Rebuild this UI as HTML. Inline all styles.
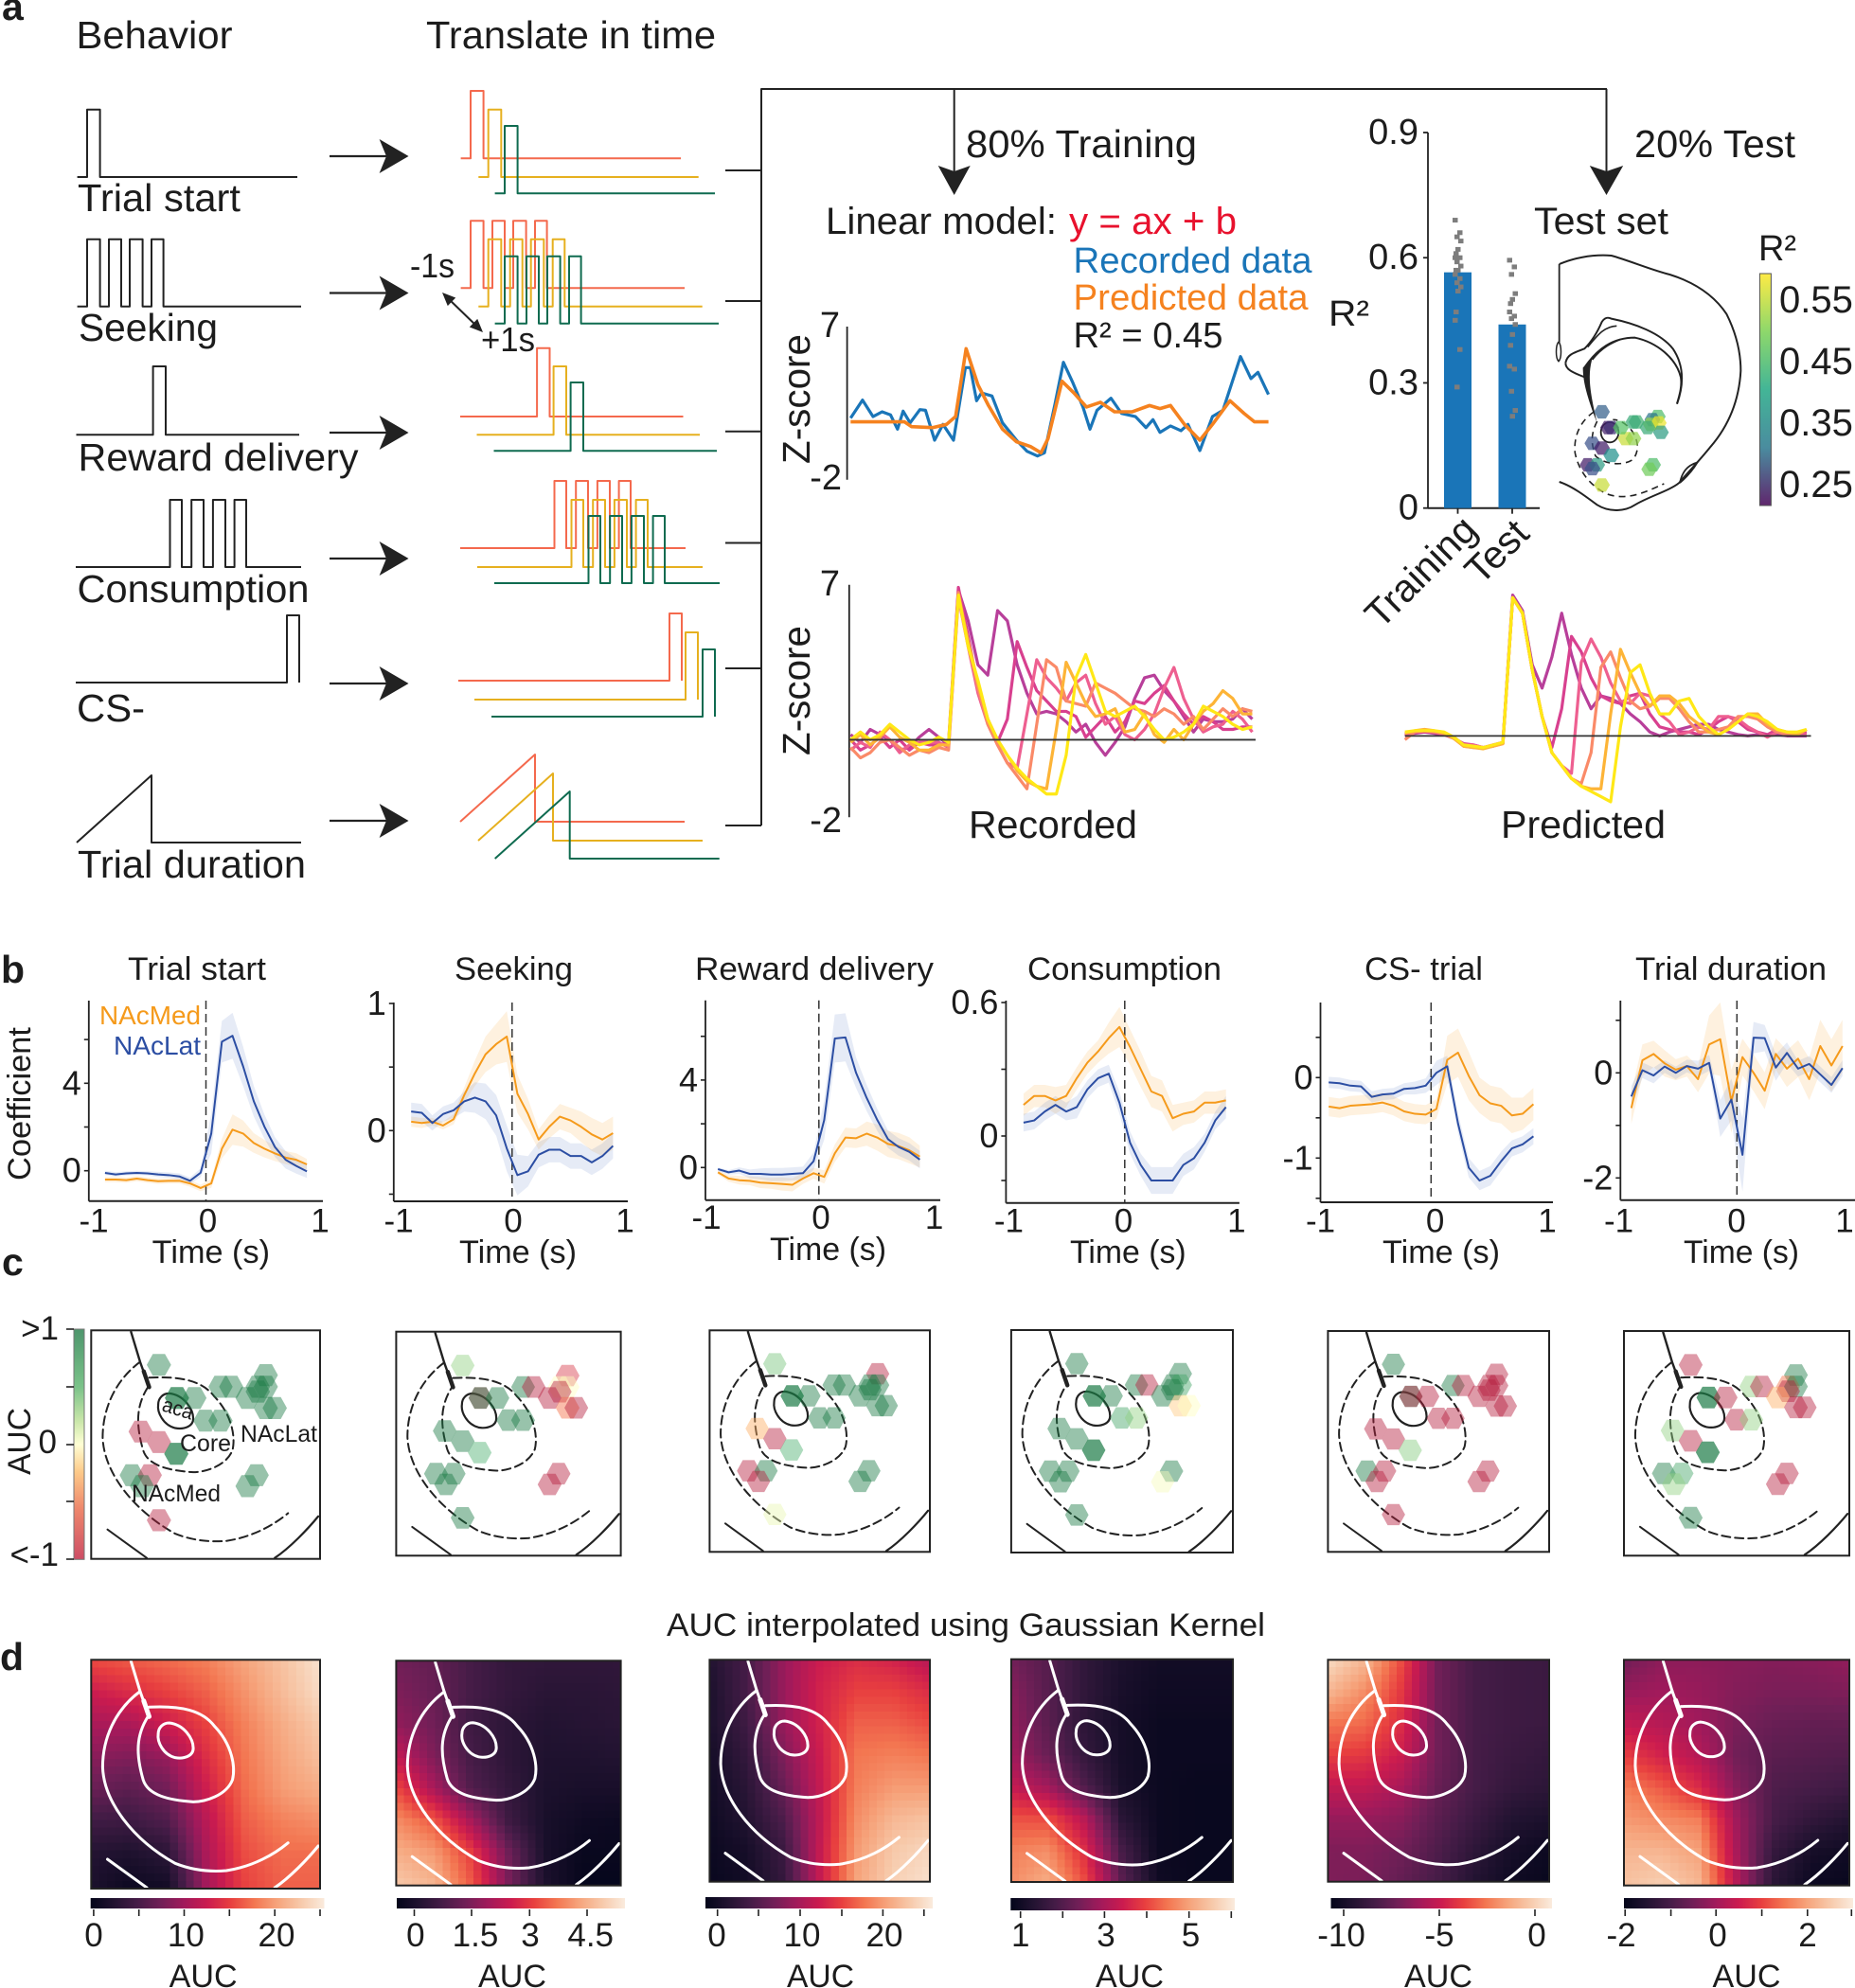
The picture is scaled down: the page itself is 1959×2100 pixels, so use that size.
<!DOCTYPE html>
<html lang="en">
<head>
<meta charset="utf-8">
<title>Linear model of NAc dopamine behavior encoding</title>
<style>
html,body{margin:0;padding:0;background:#fff;}
svg{display:block;}
text{font-family:"Liberation Sans",sans-serif;fill:#1c1c1c;}
.bold{font-weight:bold;}
</style>
</head>
<body>
<svg id="figure" xmlns="http://www.w3.org/2000/svg" width="1959" height="2100" viewBox="0 0 1959 2100">
<defs>
<linearGradient id="viridis-grad" x1="0" y1="0" x2="0" y2="1">
<stop offset="0" stop-color="#fde725"/><stop offset=".25" stop-color="#7ad151"/><stop offset=".5" stop-color="#22a884"/><stop offset=".75" stop-color="#2a788e"/><stop offset="1" stop-color="#440154"/>
</linearGradient>
<linearGradient id="auc-grad" x1="0" y1="0" x2="0" y2="1">
<stop offset="0" stop-color="#3a8a5c"/><stop offset=".25" stop-color="#6cbc7c"/><stop offset=".4" stop-color="#c4e4a0"/><stop offset=".5" stop-color="#ffffd0"/><stop offset=".62" stop-color="#fdc47c"/><stop offset=".78" stop-color="#ec7a5c"/><stop offset="1" stop-color="#c83a55"/>
</linearGradient>
<linearGradient id="rocket-grad" x1="0" y1="0" x2="1" y2="0">
<stop offset="0" stop-color="#03051a"/><stop offset=".1" stop-color="#221331"/><stop offset=".2" stop-color="#451c47"/><stop offset=".3" stop-color="#701f57"/><stop offset=".4" stop-color="#a11a5b"/><stop offset=".5" stop-color="#cb1b4f"/><stop offset=".6" stop-color="#e83f3f"/><stop offset=".7" stop-color="#f37651"/><stop offset=".8" stop-color="#f6a47c"/><stop offset=".9" stop-color="#f7c9aa"/><stop offset="1" stop-color="#faebdd"/>
</linearGradient>
</defs>

<g id="marks-layer"></g>

<g>
<text class="bold" x="2" y="21" font-size="41">a</text>
<text x="80.5" y="51" font-size="41" textLength="165" lengthAdjust="spacingAndGlyphs">Behavior</text>
<text x="450" y="51" font-size="41" textLength="306" lengthAdjust="spacingAndGlyphs">Translate in time</text>
<text x="82" y="223" font-size="41" textLength="172" lengthAdjust="spacingAndGlyphs">Trial start</text>
<text x="83" y="360" font-size="41" textLength="147" lengthAdjust="spacingAndGlyphs">Seeking</text>
<text x="82.5" y="497" font-size="41" textLength="296" lengthAdjust="spacingAndGlyphs">Reward delivery</text>
<text x="81.5" y="636" font-size="41" textLength="245" lengthAdjust="spacingAndGlyphs">Consumption</text>
<text x="81" y="762" font-size="41" textLength="72" lengthAdjust="spacingAndGlyphs">CS-</text>
<text x="82" y="927" font-size="41" textLength="241" lengthAdjust="spacingAndGlyphs">Trial duration</text>
<text x="433" y="293" font-size="36" textLength="47" lengthAdjust="spacingAndGlyphs">-1s</text>
<text x="508" y="371" font-size="36" textLength="57" lengthAdjust="spacingAndGlyphs">+1s</text>
<text x="1020" y="166" font-size="41" textLength="244" lengthAdjust="spacingAndGlyphs">80% Training</text>
<text x="1726" y="166" font-size="41" textLength="170" lengthAdjust="spacingAndGlyphs">20% Test</text>
<text x="872" y="247" font-size="40" textLength="244" lengthAdjust="spacingAndGlyphs">Linear model:</text>
<text x="1129" y="247" font-size="40" style="fill:#e8112d" textLength="177" lengthAdjust="spacingAndGlyphs">y = ax + b</text>
<text x="1620" y="247" font-size="40" textLength="142" lengthAdjust="spacingAndGlyphs">Test set</text>
<text x="1133.5" y="288" font-size="38" style="fill:#1a75b8" textLength="252" lengthAdjust="spacingAndGlyphs">Recorded data</text>
<text x="1133.5" y="327" font-size="38" style="fill:#f5821f" textLength="248" lengthAdjust="spacingAndGlyphs">Predicted data</text>
<text x="1133.5" y="367" font-size="38" textLength="158" lengthAdjust="spacingAndGlyphs">R² = 0.45</text>
<text x="1403" y="344" font-size="38" textLength="43" lengthAdjust="spacingAndGlyphs">R²</text>
<text x="1857" y="275" font-size="38" textLength="40" lengthAdjust="spacingAndGlyphs">R²</text>
<text transform="translate(855,490) rotate(-90)" x="0" y="0" font-size="41" textLength="137" lengthAdjust="spacingAndGlyphs">Z-score</text>
<text transform="translate(855,798) rotate(-90)" x="0" y="0" font-size="41" textLength="137" lengthAdjust="spacingAndGlyphs">Z-score</text>
<text x="1023" y="885" font-size="41" textLength="178" lengthAdjust="spacingAndGlyphs">Recorded</text>
<text x="1585" y="885" font-size="41" textLength="174" lengthAdjust="spacingAndGlyphs">Predicted</text>
</g>

<g>
<text class="bold" x="1" y="1038" font-size="41">b</text>
<text x="135" y="1035" font-size="34" textLength="146" lengthAdjust="spacingAndGlyphs">Trial start</text>
<text x="480" y="1035" font-size="34" textLength="125" lengthAdjust="spacingAndGlyphs">Seeking</text>
<text x="734" y="1035" font-size="34" textLength="252" lengthAdjust="spacingAndGlyphs">Reward delivery</text>
<text x="1085" y="1035" font-size="34" textLength="205" lengthAdjust="spacingAndGlyphs">Consumption</text>
<text x="1441" y="1035" font-size="34" textLength="125" lengthAdjust="spacingAndGlyphs">CS- trial</text>
<text x="1727" y="1035" font-size="34" textLength="202" lengthAdjust="spacingAndGlyphs">Trial duration</text>
<text x="105" y="1082" font-size="28" style="fill:#f59a1b" textLength="107" lengthAdjust="spacingAndGlyphs">NAcMed</text>
<text x="120" y="1114" font-size="28" style="fill:#2c4ea3" textLength="92" lengthAdjust="spacingAndGlyphs">NAcLat</text>
<text transform="translate(32,1247) rotate(-90)" x="0" y="0" font-size="34" textLength="162" lengthAdjust="spacingAndGlyphs">Coefficient</text>
<text class="bold" x="2" y="1347" font-size="41">c</text>
</g>

<g>
<text x="62" y="1415" font-size="35" text-anchor="end">&gt;1</text>
<text x="60" y="1535" font-size="35" text-anchor="end">0</text>
<text x="62" y="1654" font-size="35" text-anchor="end">&lt;-1</text>
<text transform="translate(32,1558) rotate(-90)" x="0" y="0" font-size="34" textLength="71" lengthAdjust="spacingAndGlyphs">AUC</text>
<text transform="translate(170,1490) rotate(17)" x="0" y="0" font-size="22" textLength="33" lengthAdjust="spacingAndGlyphs">aca</text>
<text x="190" y="1533" font-size="25" textLength="54" lengthAdjust="spacingAndGlyphs">Core</text>
<text x="254" y="1523" font-size="25" textLength="81" lengthAdjust="spacingAndGlyphs">NAcLat</text>
<text x="139" y="1586" font-size="25" textLength="94" lengthAdjust="spacingAndGlyphs">NAcMed</text>
</g>

<g>
<text class="bold" x="0" y="1764" font-size="41">d</text>
<text x="704" y="1728" font-size="34" textLength="632" lengthAdjust="spacingAndGlyphs">AUC interpolated using Gaussian Kernel</text>
</g>

<script>
/* ---------- bar chart data (R²) ---------- */
const barCategories = ['Training', 'Test'];
const barValues = [0.565, 0.44];
const trainingPoints = [.69,.66,.65,.64,.62,.61,.60,.60,.59,.58,.57,.57,.56,.55,.54,.53,.52,.47,.45,.38,.29];
const testPoints = [.594,.578,.56,.514,.5,.49,.47,.46,.454,.44,.416,.39,.34,.333,.28,.234,.22];
const barTicks = [0, 0.3, 0.6, 0.9];
const barTickLabels = ['0', '0.3', '0.6', '0.9'];

/* ---------- example fit trace ---------- */
const fitBlueTime = [0,.17,.32,.45,.57,.67,.75,.85,.99,1.07,1.2,1.32,1.47,1.64,1.71,1.8,1.87,2.02,2.17,2.37,2.52,2.67,2.77,2.92,3.04,3.17,3.32,3.42,3.52,3.72,3.87,4.07,4.22,4.32,4.42,4.57,4.72,4.82,4.99,5.17,5.32,5.57,5.72,5.82,5.97];
const fitBlueZ = [1.62,2.68,1.71,1.99,1.81,.97,2.03,1.34,2.12,2.08,.32,1.25,.32,4.59,4.59,2.64,3.10,2.92,1.34,.32,-.33,-.61,-.42,2.45,4.9,3.75,2.27,.97,2.08,2.79,1.9,1.71,1.06,1.53,.78,1.16,.88,1.25,-.29,1.71,2.08,5.24,3.94,4.31,3.01];
const fitOrangeTime = [0,.77,.87,1.17,1.37,1.5,1.65,1.82,1.97,2.17,2.37,2.57,2.72,2.82,3.02,3.19,3.37,3.57,3.77,4.02,4.27,4.42,4.57,4.77,4.99,5.17,5.42,5.62,5.77,5.97];
const fitOrangeZ = [1.4,1.4,1.12,1.06,1.25,1.71,5.7,3.57,2.36,.97,.23,-.05,-.42,.41,3.79,3.1,2.27,2.55,1.99,1.99,2.36,2.18,2.36,1.25,.32,1.25,2.64,1.9,1.4,1.4];

/* ---------- recorded / predicted families ---------- */
const familyTime = [-1.40,-1.26,-1.12,-.98,-.84,-.70,-.56,-.42,-.28,-.14,0,.14,.28,.42,.56,.70,.84,.98,1.12,1.26,1.40,1.54,1.68,1.82,1.96,2.10,2.24,2.38,2.52,2.66,2.80,2.94,3.08,3.22,3.36,3.50,3.64,3.78,3.92,4.06,4.20,4.34];
const familyColors = ['#b83f9a','#d8408f','#ee5f90','#fa8a68','#fdb437','#ffe816'];
const recorded1 = [1.2,.9,1.4,1.2,1.0,.6,.7,1.1,1.4,1.1,.8,6.8,5.6,3.9,3.5,6.0,5.6,3.9,2.8,2.0,2.1,2.0,1.7,1.3,1.6,.9,.4,.9,1.5,2.6,3.4,3.5,2.9,2.5,1.9,1.3,1.8,1.7,1.7,1.8,2.2,1.8];
const recorded2 = [1.0,.6,.8,1.1,.7,1.0,.6,.9,.8,.8,.9,6.9,5.0,3.0,1.8,.9,1.8,4.8,3.8,2.9,2.5,2.1,2.1,1.9,1.1,1.5,1.9,1.3,1.7,2.5,2.4,2.8,3.1,2.5,2.0,1.6,1.9,1.7,1.4,1.4,1.5,1.5];
const recorded3 = [.6,.9,.7,1.3,1.0,.5,.8,.9,.9,.9,.7,6.5,4.6,2.8,1.6,.8,.1,-.1,2.0,4.1,3.4,3.0,2.5,3.2,3.5,2.4,1.6,1.9,1.2,1.0,1.4,2.0,3.0,3.8,2.6,1.8,1.3,1.5,1.6,2.1,1.8,1.3];
const recorded4 = [.7,.3,.5,.9,1.0,.7,.4,.6,.5,.7,.6,6.7,4.7,3.0,1.6,.8,.1,-.4,-.9,1.6,4.1,3.8,2.5,2.4,2.3,3.2,3.0,2.8,2.5,2.2,2.1,1.9,2.2,2.0,1.6,1.9,1.4,1.8,2.2,1.9,2.2,2.1];
const recorded5 = [.9,1.2,.8,1.1,1.5,1.1,.9,.6,.6,.8,.8,6.6,4.8,3.2,1.8,1.0,.4,-.2,-.6,-.8,-.9,1.4,4.0,3.2,2.4,1.9,2.0,2.2,1.3,1.4,2.0,1.2,.9,1.4,1.0,1.6,2.1,2.4,2.9,2.6,2.0,2.0];
const recorded6 = [1.0,1.3,1.0,1.2,1.6,1.3,1.0,.8,.9,1.1,.9,6.6,4.6,3.3,1.8,1.0,.4,-.1,-.5,-.8,-1.1,-1.1,.4,3.4,4.3,3.2,2.1,1.9,2.1,2.3,1.9,1.4,1.0,1.1,1.3,1.6,2.3,2.1,1.9,1.6,1.4,1.5];
const predicted1 = [1.2,1.25,1.3,1.25,1.2,1.1,.8,.75,.7,.75,.9,6.6,6.0,3.9,3.0,4.2,5.9,4.3,3.0,2.2,2.7,2.6,2.4,2.0,1.7,1.3,1.15,1.3,1.4,1.5,1.6,1.6,1.4,1.3,1.2,1.15,1.2,1.15,1.2,1.15,1.15,1.15];
const predicted2 = [1.2,1.3,1.3,1.3,1.2,1.05,.85,.8,.7,.8,.9,6.5,5.9,3.7,1.9,.7,2.2,5.0,4.4,3.4,2.7,2.5,2.4,2.7,2.8,2.0,1.5,1.4,1.3,1.3,1.2,1.4,1.7,1.9,1.7,1.4,1.3,1.2,1.4,1.2,1.2,1.3];
const predicted3 = [1.15,1.3,1.35,1.3,1.2,1.05,.8,.8,.7,.8,.85,6.5,5.9,3.7,1.9,.5,0,-.3,4.0,4.9,4.2,3.2,2.5,2.4,2.8,2.7,2.0,1.7,1.2,1.3,1.5,1.4,1.9,1.9,1.8,1.5,1.3,1.1,1.3,1.3,1.2,1.2];
const predicted4 = [1.0,1.3,1.35,1.3,1.25,1.05,.75,.7,.7,.75,.85,6.5,5.9,3.7,1.9,.5,0,-.5,-.7,.5,3.8,4.4,3.4,2.5,2.2,2.3,2.6,2.6,2.2,1.7,1.3,1.3,1.4,1.5,1.9,1.9,1.8,1.5,1.3,1.2,1.2,1.4];
const predicted5 = [1.25,1.35,1.4,1.35,1.25,1.05,.75,.7,.65,.75,.85,6.5,5.9,3.7,1.9,.5,0,-.5,-.8,-.9,-.9,2.0,4.5,3.6,2.8,2.3,2.7,2.7,2.4,1.9,1.6,1.3,1.2,1.4,1.7,2.0,2.0,1.6,1.4,1.3,1.2,1.4];
const predicted6 = [1.3,1.35,1.35,1.35,1.3,1.1,.8,.75,.7,.8,.9,6.5,5.9,3.7,1.9,.5,0,-.5,-.8,-1.0,-1.2,-1.4,1.5,3.6,3.9,2.8,2.0,2.0,2.5,2.6,1.9,1.5,1.2,1.4,1.7,2.0,1.9,1.7,1.4,1.3,1.3,1.4];
const familyReferenceZ = 1.0;
const predictedReferenceZ = 1.15;

/* ---------- test-set sites (atlas x, atlas y, R²) ---------- */
const testSiteX = [185,205,215,155,185,215,140,170,155,185,347,335,260,285,245,295,285,362,345,340,365,330,372];
const testSiteY = [540,590,590,640,655,678,708,708,720,772,708,722,625,625,590,572,572,555,565,580,575,590,605];
const testSiteR2 = [.33,.25,.27,.31,.25,.40,.25,.42,.31,.55,.47,.5,.55,.52,.48,.45,.44,.47,.36,.52,.57,.44,.42];
const r2Ticks = ['0.55','0.45','0.35','0.25'];

/* ---------- coefficient kernels (panel b) ---------- */
const timeGrid = [-.95,-.85,-.75,-.65,-.55,-.45,-.35,-.25,-.15,-.05,.05,.15,.25,.35,.45,.55,.65,.75,.85,.95];
const xTickLabels = ['-1','0','1'];
const trialStartLat = [-.1,-.17,-.12,-.1,-.12,-.17,-.2,-.26,-.46,-.09,1.7,5.9,6.17,4.77,3.18,2.02,1.08,.5,.22,-.03];
const trialStartLatErr = [.1,.1,.1,.1,.1,.12,.12,.14,.15,.2,.9,.95,1.05,.9,.7,.55,.45,.4,.35,.3];
const trialStartMed = [-.4,-.4,-.43,-.36,-.43,-.48,-.46,-.46,-.58,-.79,-.58,1.01,1.88,1.7,1.27,1.01,.79,.6,.5,.29];
const trialStartMedErr = [.12,.12,.12,.12,.12,.12,.12,.12,.15,.15,.2,.45,.7,.6,.45,.4,.35,.3,.3,.25];
const seekingLat = [.15,.14,.06,.13,.16,.23,.26,.23,.12,-.14,-.35,-.32,-.19,-.15,-.15,-.2,-.2,-.25,-.2,-.12];
const seekingLatErr = [.07,.07,.06,.06,.06,.08,.12,.14,.16,.18,.16,.12,.1,.1,.1,.1,.1,.1,.1,.1];
const seekingMed = [.07,.06,.07,.04,.09,.28,.45,.6,.68,.74,.29,.13,-.07,.03,.11,.08,.03,-.03,-.07,-.02];
const seekingMedErr = [.04,.04,.03,.03,.04,.06,.1,.14,.16,.2,.15,.12,.08,.09,.1,.1,.12,.13,.13,.13];
const rewardLat = [-.07,-.22,-.14,-.29,-.29,-.32,-.32,-.29,-.26,.29,2.17,5.9,5.95,4.33,3.18,2.17,1.3,.94,.72,.36];
const rewardLatErr = [.08,.1,.15,.2,.25,.3,.3,.3,.3,.4,.9,1.1,1.1,.7,.6,.5,.4,.4,.4,.4];
const rewardMed = [-.22,-.5,-.58,-.61,-.69,-.72,-.75,-.79,-.5,-.26,-.43,.65,1.37,1.34,1.55,1.37,1.08,.98,.79,.5];
const rewardMedErr = [.1,.15,.2,.2,.25,.25,.3,.3,.25,.25,.3,.4,.45,.45,.55,.6,.6,.6,.6,.5];
const consumptionLat = [.06,.07,.11,.14,.11,.13,.21,.26,.28,.15,-.03,-.13,-.2,-.2,-.2,-.13,-.1,-.03,.07,.13];
const consumptionLatErr = [.04,.04,.04,.04,.04,.05,.04,.04,.04,.05,.05,.05,.06,.06,.06,.05,.05,.04,.04,.05];
const consumptionMed = [.14,.18,.18,.16,.18,.26,.33,.38,.44,.49,.4,.3,.2,.18,.08,.1,.11,.15,.15,.16];
const consumptionMedErr = [.05,.05,.05,.06,.05,.05,.05,.05,.07,.09,.08,.08,.07,.07,.06,.05,.05,.05,.05,.05];
const csMinusLat = [-.06,-.07,-.1,-.11,-.24,-.21,-.2,-.14,-.13,-.1,.06,.14,-.57,-1.12,-1.28,-1.22,-1.04,-.88,-.83,-.73];
const csMinusLatErr = [.07,.07,.07,.07,.07,.07,.07,.07,.08,.09,.15,.13,.12,.12,.12,.12,.12,.1,.1,.1];
const csMinusMed = [-.36,-.38,-.35,-.34,-.33,-.31,-.35,-.42,-.45,-.46,-.39,.22,.31,.02,-.22,-.32,-.35,-.47,-.45,-.33];
const csMinusMedErr = [.12,.12,.12,.12,.12,.12,.12,.12,.12,.12,.12,.3,.3,.3,.22,.22,.22,.22,.2,.2];
const durationLat = [-.45,.05,-.05,.12,0,.13,.08,.19,-.87,-.51,-1.56,.67,.66,.1,.38,.08,.17,-.03,-.23,.09];
const durationLatErr = [.2,.15,.15,.12,.12,.12,.15,.15,.35,.4,.7,.3,.25,.25,.2,.15,.15,.15,.15,.15];
const durationMed = [-.67,.24,.36,.18,.06,.13,-.12,.54,.64,-.54,.3,0,-.34,.36,.08,.27,-.12,.51,.14,.51];
const durationMedErr = [.3,.3,.25,.25,.2,.2,.25,.55,.7,.6,.35,.35,.35,.3,.35,.35,.4,.5,.5,.5];

/* ---------- site AUC values (panel c); null = no site in that session ---------- */
const siteFracX = [.296,.375,.375,.451,.565,.612,.763,.728,.763,.728,.683,.763,.802,.499,.565,.216,.296,.372,.372,.177,.256,.222,.723,.683,.296];
const siteFracY = [.151,.296,.296,.296,.247,.247,.196,.247,.247,.268,.296,.340,.340,.395,.395,.443,.489,.540,.540,.634,.634,.682,.634,.682,.831];
const aucTrialStart = [1,1,1,1,1,1,1,1,1,1,1,1,1,1,1,-1,-1,1,1,1,-1,1,1,1,-1];
const aucSeeking = [.25,-1,1,1,1,-1,-.6,0,0,-1,-1,-.3,-1,1,1,1,1,.5,null,1,1,1,-1,-1,1];
const aucReward = [.35,1,1,1,1,1,-1,1,1,1,1,1,1,1,1,-.15,-1,.5,null,-1,1,-1,1,1,.05];
const aucConsumption = [1,1,1,1,1,-1,1,1,.6,1,1,-.1,0,.6,.25,1,1,1,1,1,1,1,1,.02,1];
const aucCsMinus = [1,1,-1,-1,1,-1,-1,-1,-1,-1,-1,-1,-1,-1,-1,-1,-1,.3,null,1,-1,-1,-1,-1,-1];
const aucDuration = [-1,1,1,-1,.25,-1,1,-.3,1,-1,-.15,-1,-1,-1,.25,.25,-1,1,1,1,.6,.25,-1,-1,1];

/* ---------- interpolated AUC maps, normalised to each colorbar (panel d) ---------- */
const heatTrialStart = [[.62,.65,.68,.72,.8,.88,.97],[.5,.55,.6,.66,.76,.86,.95],[.42,.42,.5,.6,.72,.82,.9],[.35,.33,.38,.55,.7,.8,.87],[.28,.25,.3,.5,.68,.78,.82],[.18,.17,.22,.45,.65,.72,.75],[.1,.08,.12,.42,.62,.68,.68],[.08,.03,.05,.4,.6,.66,.66]];
const heatSeeking = [[.3,.27,.2,.15,.14,.14,.14],[.33,.28,.2,.15,.12,.12,.13],[.37,.3,.18,.13,.1,.11,.12],[.48,.33,.2,.13,.09,.09,.1],[.62,.42,.23,.15,.08,.07,.07],[.75,.65,.42,.18,.07,.04,.03],[.83,.78,.6,.3,.07,.02,.02],[.9,.85,.65,.32,.08,.01,.01]];
const heatReward = [[.1,.2,.38,.5,.55,.52,.45],[.08,.2,.38,.52,.6,.6,.55],[.08,.18,.38,.52,.66,.66,.62],[.06,.15,.33,.5,.7,.72,.7],[.05,.12,.28,.48,.72,.78,.78],[.04,.1,.22,.47,.75,.85,.88],[.03,.06,.17,.48,.78,.9,.94],[.02,.05,.15,.48,.8,.92,.97]];
const heatConsumption = [[.3,.24,.14,.08,.05,.05,.05],[.35,.24,.14,.07,.04,.04,.04],[.37,.25,.13,.06,.03,.03,.03],[.4,.28,.15,.06,.03,.03,.03],[.48,.4,.22,.07,.03,.02,.02],[.63,.62,.45,.12,.03,.02,.02],[.72,.75,.55,.2,.03,.02,.02],[.75,.82,.62,.25,.04,.02,.02]];
const heatCsMinus = [[.95,.85,.62,.3,.2,.18,.17],[.85,.75,.58,.3,.2,.18,.17],[.7,.68,.55,.3,.2,.18,.17],[.6,.58,.5,.3,.2,.17,.15],[.48,.48,.42,.28,.2,.15,.13],[.38,.38,.35,.25,.17,.1,.08],[.33,.33,.3,.22,.13,.06,.03],[.33,.32,.27,.2,.1,.04,.02]];
const heatDuration = [[.3,.36,.36,.35,.34,.35,.37],[.38,.4,.38,.34,.32,.32,.33],[.48,.45,.4,.32,.28,.27,.27],[.6,.52,.45,.3,.25,.24,.23],[.72,.65,.55,.35,.22,.2,.18],[.78,.75,.72,.4,.2,.14,.1],[.85,.85,.8,.42,.15,.06,.04],[.88,.92,.85,.45,.12,.03,.02]];

/* ---------- helpers ---------- */
const NS = 'http://www.w3.org/2000/svg';
const root = document.getElementById('marks-layer');
function mk(tag, name, parent) {
  const el = document.createElementNS(NS, tag);
  
  
  (parent || root).appendChild(el);
  return el;
}
function set(el, attrs) { for (const k in attrs) el.setAttribute(k, attrs[k]); return el; }
function linear(d0, d1, r0, r1) { return v => r0 + (v - d0) * (r1 - r0) / (d1 - d0); }
function line(name, x1, y1, x2, y2, stroke, w, parent, extra) {
  return set(mk('line', name, parent), Object.assign({x1, y1, x2, y2, stroke, 'stroke-width': w}, extra || {}));
}
function poly(name, pts, stroke, w, parent) {
  return set(mk('polyline', name, parent), {points: pts.map(p => p[0].toFixed(2) + ',' + p[1].toFixed(2)).join(' '), fill: 'none', stroke, 'stroke-width': w, 'stroke-linejoin': 'round'});
}
function label(name, str, x, y, size, anchor, parent, fill) {
  const t = mk('text', name, parent);
  set(t, {x, y, 'font-size': size, 'text-anchor': anchor || 'middle'});
  if (fill) t.style.fill = fill;
  t.textContent = str;
  return t;
}
function mix(a, b, f) {
  const pa = parseInt(a.slice(1), 16), pb = parseInt(b.slice(1), 16);
  const c = s => Math.round(((pa >> s) & 255) * (1 - f) + ((pb >> s) & 255) * f);
  return 'rgb(' + c(16) + ',' + c(8) + ',' + c(0) + ')';
}
function ramp(stops, v) {
  if (v <= stops[0][0]) return mix(stops[0][1], stops[0][1], 0);
  for (let i = 1; i < stops.length; i++) {
    if (v <= stops[i][0]) return mix(stops[i - 1][1], stops[i][1], (v - stops[i - 1][0]) / (stops[i][0] - stops[i - 1][0]));
  }
  const last = stops[stops.length - 1][1];
  return mix(last, last, 0);
}
const rocketStops = [[0,'#03051a'],[.1,'#221331'],[.2,'#451c47'],[.3,'#701f57'],[.4,'#a11a5b'],[.5,'#cb1b4f'],[.6,'#e83f3f'],[.7,'#f37651'],[.8,'#f6a47c'],[.9,'#f7c9aa'],[1,'#faebdd']];
const aucStops = [[-1,'#b5203f'],[-.6,'#d73a4a'],[-.3,'#f46d43'],[-.15,'#fdae61'],[0,'#ffffbf'],[.25,'#90d080'],[.5,'#4cb06f'],[1,'#1a7a45']];
const viridisStops = [[0,'#440154'],[.25,'#3b528b'],[.5,'#21918c'],[.75,'#5ec962'],[1,'#fde725']];
function hexPoints(cx, cy, rx, ry) {
  return [[cx - rx, cy], [cx - rx / 2, cy - ry], [cx + rx / 2, cy - ry], [cx + rx, cy], [cx + rx / 2, cy + ry], [cx - rx / 2, cy + ry]]
    .map(p => p[0].toFixed(1) + ',' + p[1].toFixed(1)).join(' ');
}

/* ---------- panel a: behaviour schematics ---------- */
function pulsePath(x0, x1, base, top, pulses) {
  const pts = [[x0, base]];
  pulses.forEach(p => { pts.push([p[0], base], [p[0], top], [p[1], top], [p[1], base]); });
  if (x1 !== null) pts.push([x1, base]);
  return pts;
}
const behaviorShapes = [
  {n: 'trial-start', pts: pulsePath(81.6, 314, 187, 115.7, [[92, 105.6]]), dx: [405, 423.7, 441], dy: [-19.7, 0, 17.3]},
  {n: 'seeking', pts: pulsePath(81.6, 318, 323.7, 252.7, [[92, 105.6], [115, 128], [137, 150.6], [160, 172.6]]), dx: [405, 423.7, 441], dy: [-19.4, 0, 18]},
  {n: 'reward-delivery', pts: pulsePath(80.5, 316, 459.3, 387, [[161.6, 175]]), dx: [405.5, 423, 441], dy: [-19.3, 0, 17]},
  {n: 'consumption', pts: pulsePath(80, 318, 599, 528, [[179.5, 192], [202.2, 215], [224.9, 238], [247.6, 260]]), dx: [406, 424, 442], dy: [-20, 0, 17]},
  {n: 'cs-minus', pts: pulsePath(80, null, 721, 650, [[303, 316]]), dx: [404, 421, 439], dy: [-2, 18, 36]},
  {n: 'trial-duration', pts: [[81, 890], [160, 819], [160, 890], [318, 890]], dx: [405, 424, 441.7], dy: [-22, -2, 17]}
];
const shiftColors = ['#f4694d', '#e6b01f', '#0f6b50'];
const shiftNames = ['minus', 'zero', 'plus'];
behaviorShapes.forEach(b => {
  poly('behavior-trace-' + b.n, b.pts, '#222', 2);
  [0, 1, 2].forEach(i => {
    poly('shifted-trace-' + b.n + '-' + shiftNames[i], b.pts.map(p => [p[0] + b.dx[i], p[1] + b.dy[i]]), shiftColors[i], 2);
  });
});
const arrowRows = [165, 309.5, 457, 590, 722, 867];
arrowRows.forEach(y => {
  line('flow-arrow-shaft', 348, y, 410, y, '#222', 2.2);
  set(mk('polygon', 'flow-arrow-head'), {points: '431.5,' + y + ' 400.6,' + (y - 18) + ' 408,' + y + ' 400.6,' + (y + 18), fill: '#222'});
});
line('shift-double-arrow', 472, 314, 505, 346, '#222', 2);
set(mk('polygon', 'shift-arrow-head-top'), {points: '467,309 481.2,314.5 472.8,323.1', fill: '#222'});
set(mk('polygon', 'shift-arrow-head-bottom'), {points: '510,351 504.2,336.9 495.8,345.5', fill: '#222'});

/* bracket and down arrows */
poly('split-bracket', [[804, 872], [804, 94], [1697, 94]], '#222', 2);
[180, 318, 455.7, 573.5, 706, 872].forEach(y => line('bracket-tick', 766, y, 804, y, '#222', 2));
[[1007.7, 17, 'training'], [1696.5, 17.7, 'test']].forEach(a => {
  line('split-arrow-' + a[2] + '-shaft', a[0], 94, a[0], 190, '#222', 2);
  set(mk('polygon', 'split-arrow-' + a[2] + '-head'), {points: a[0] + ',206 ' + (a[0] - a[1]) + ',175 ' + a[0] + ',181 ' + (a[0] + a[1]) + ',175', fill: '#222'});
});

/* fit example */
(function () {
  const xS = linear(0, 6, 898.3, 1341.8), yS = linear(-2, 7, 506.7, 345);
  line('fit-y-axis', 894.6, yS(7), 894.6, yS(-2), '#222', 1.8);
  label('fit-y-tick-7', '7', 887, 356, 38, 'end');
  label('fit-y-tick-minus-2', '-2', 889, 517, 38, 'end');
  poly('fit-recorded-line', fitBlueTime.map((t, i) => [xS(t), yS(fitBlueZ[i])]), '#1a75b8', 3.2);
  poly('fit-predicted-line', fitOrangeTime.map((t, i) => [xS(t), yS(fitOrangeZ[i])]), '#f5821f', 3.6);
})();

/* bar chart */
(function () {
  const y = linear(0, 0.9, 536.7, 140);
  const barX = [1525, 1582.5], barW = 29;
  const labelAnchorX = [1562, 1617], labelAnchorY = [562, 566];
  line('bar-y-axis', 1508, y(0.9), 1508, y(0), '#222', 1.8);
  line('bar-x-axis', 1508, y(0), 1626, y(0), '#222', 2);
  barTicks.forEach((v, i) => {
    line('bar-y-tick', 1503, y(v), 1508, y(v), '#222', 1.8);
    label('bar-y-label-' + barTickLabels[i], barTickLabels[i], 1498, y(v) + 12, 38, 'end');
  });
  barValues.forEach((v, i) => {
    const name = barCategories[i].toLowerCase();
    set(mk('rect', 'bar-' + name), {x: barX[i], y: y(v), width: barW, height: y(0) - y(v), fill: '#1a75b8'});
    line('bar-x-tick-' + name, barX[i] + 14.5, y(0), barX[i] + 14.5, y(0) + 6, '#222', 1.8);
    const t = label('bar-x-label-' + name, barCategories[i], 0, 0, 41, 'end');
    t.setAttribute('transform', 'translate(' + labelAnchorX[i] + ',' + labelAnchorY[i] + ') rotate(-45)');
  });
  const jitter = [-3, 2, -1, 3, 0, -2];
  [trainingPoints, testPoints].forEach((pts, i) => {
    pts.forEach((v, j) => {
      set(mk('rect', 'bar-point-' + barCategories[i].toLowerCase()), {x: barX[i] + 12 + jitter[j % 6], y: y(v) - 2.5, width: 5.5, height: 5, fill: '#7d7d7d'});
    });
  });
})();

/* brain atlas */
(function () {
  const g = mk('g', 'test-set-atlas');
  g.setAttribute('transform', 'translate(1630,255) scale(0.33333)');
  const paths = [
    ['brain-outline', 'M50,72 C90,55 150,40 215,45 C270,60 340,90 400,105 C480,130 540,170 580,230 C610,290 625,350 625,410 C620,500 590,580 530,650 C490,700 450,740 430,765 C400,790 330,810 290,835 C260,855 210,860 170,835 C130,805 90,775 50,762', 2],
    ['brain-midline', 'M50,72 L50,320', 1.8],
    ['ventricle-tip', 'M48,318 C38,330 38,370 48,380 C58,370 58,330 48,318', 1.5],
    ['corpus-callosum-outer', 'M70,385 C75,360 90,355 130,340 C150,320 170,290 185,255 C195,240 205,240 215,245 C290,260 370,290 410,340 C440,385 450,440 423,515', 2],
    ['septal-bulge', 'M70,385 C70,405 90,415 130,430', 2],
    ['corpus-callosum-inner', 'M130,400 C170,340 220,305 290,305 C360,320 420,370 435,430 C440,460 430,490 423,515', 2],
    ['callosum-fold', 'M140,335 C170,300 190,270 232,268', 1.6],
    ['callosum-fold-lower', 'M155,375 C185,335 220,320 245,310', 1.6],
    ['lateral-edge', 'M432,765 C440,730 455,710 488,700 C470,730 450,750 432,765', 1.8],
    ['ventral-tip', 'M50,762 L50,762', 1.5]
  ];
  paths.forEach(p => {
    set(mk('path', p[0], g), {d: p[1], fill: 'none', stroke: '#222', 'stroke-width': p[2], 'vector-effect': 'non-scaling-stroke'});
  });
  set(mk('path', 'fornix', g), {d: 'M125,400 L155,370 C140,420 145,470 170,575 L160,550 C135,480 125,440 125,400 Z', fill: '#222'});
  set(mk('ellipse', 'aca-outline', g), {cx: 210, cy: 605, rx: 28, ry: 32, fill: 'none', stroke: '#222', 'stroke-width': 1.8, 'vector-effect': 'non-scaling-stroke'});
  [['nac-dashed-outline', 'M160,540 C115,570 95,620 100,670 C110,720 140,770 200,800 C270,825 330,790 382,768'],
   ['core-dashed-outline', 'M170,570 C150,610 150,640 165,680 C190,705 250,715 285,690 C305,660 300,630 280,600 C260,575 240,565 220,565']].forEach(p => {
    set(mk('path', p[0], g), {d: p[1], fill: 'none', stroke: '#222', 'stroke-width': 1.6, 'stroke-dasharray': '7 5', 'vector-effect': 'non-scaling-stroke'});
  });
  const c = linear(0.22, 0.58, 0, 1);
  testSiteX.forEach((sx, i) => {
    set(mk('polygon', 'test-site-hex'), {
      points: hexPoints(1630 + sx / 3, 255 + testSiteY[i] / 3, 8.4, 7.1),
      fill: ramp(viridisStops, c(testSiteR2[i])), 'fill-opacity': .72
    });
  });
  set(mk('rect', 'r-squared-colorbar'), {x: 1858.4, y: 289, width: 12, height: 245, fill: 'url(#viridis-grad)', 'fill-opacity': .85, stroke: '#555', 'stroke-width': 1});
  r2Ticks.forEach((s, i) => label('r-squared-colorbar-label-' + s, s, 1879, 330 + i * 65, 40, 'start'));
})();

/* recorded / predicted families */
(function () {
  const yS = linear(-2, 7, 863.3, 617.7);
  const rec = [recorded1, recorded2, recorded3, recorded4, recorded5, recorded6];
  const pred = [predicted1, predicted2, predicted3, predicted4, predicted5, predicted6];
  const xRec = linear(-1.4, 4.34, 898.3, 1322.5), xPred = linear(-1.4, 4.34, 1483.7, 1907.9);
  line('recorded-y-axis', 896.8, 617.7, 896.8, 863.3, '#222', 1.8);
  label('recorded-y-tick-7', '7', 887, 629, 38, 'end');
  label('recorded-y-tick-minus-2', '-2', 889, 879, 38, 'end');
  rec.forEach((s, i) => poly('recorded-trace-' + (i + 1), familyTime.map((t, j) => [xRec(t), yS(s[j])]), familyColors[i], 3.2));
  pred.forEach((s, i) => poly('predicted-trace-' + (i + 1), familyTime.map((t, j) => [xPred(t), yS(s[j])]), familyColors[i], 3.2));
  line('recorded-baseline', 896.8, yS(familyReferenceZ), 1326, yS(familyReferenceZ), '#333', 1.8);
  line('predicted-baseline', 1483.7, yS(predictedReferenceZ), 1912.5, yS(predictedReferenceZ), '#333', 1.8);
})();

/* ---------- panel b ---------- */
const kernelPanels = [
  {n: 'trial-start', lat: trialStartLat, latE: trialStartLatErr, med: trialStartMed, medE: trialStartMedErr, ax: 93.8, right: 341, top: 1057, bot: 1268.7, x0: 217.5, pps: 112.2, y0: 1236.7, ppu: 23.1, ticks: [0, 2, 4, 6], lab: [0, 4], labX: [99, 219.5, 338], base: 1301.7, tb: 1334, tx: [160.7, 124.3]},
  {n: 'seeking', lat: seekingLat, latE: seekingLatErr, med: seekingMed, medE: seekingMedErr, ax: 415.8, right: 663, top: 1059, bot: 1269, x0: 540.8, pps: 112.2, y0: 1194.3, ppu: 134.3, ticks: [-.5, 0, .5, 1], lab: [0, 1], labX: [421, 542, 660], base: 1301.7, tb: 1334, tx: [485, 124]},
  {n: 'reward-delivery', lat: rewardLat, latE: rewardLatErr, med: rewardMed, medE: rewardMedErr, ax: 745, right: 993, top: 1056.7, bot: 1267.7, x0: 864.8, pps: 112.2, y0: 1233.3, ppu: 23.1, ticks: [0, 2, 4, 6], lab: [0, 4], labX: [746, 867, 986.6], base: 1298, tb: 1331, tx: [813, 123]},
  {n: 'consumption', lat: consumptionLat, latE: consumptionLatErr, med: consumptionMed, medE: consumptionMedErr, ax: 1062.4, right: 1308.9, top: 1057, bot: 1270.7, x0: 1187.8, pps: 112.5, y0: 1200, ppu: 235, ticks: [-.2, 0, .3, .6], lab: [0, .6], labX: [1065.4, 1186.5, 1305.8], base: 1301.7, tb: 1334, tx: [1130, 122.6]},
  {n: 'cs-trial', lat: csMinusLat, latE: csMinusLatErr, med: csMinusMed, medE: csMinusMedErr, ax: 1394.5, right: 1640, top: 1059, bot: 1270, x0: 1511.3, pps: 113.8, y0: 1138.3, ppu: 85, ticks: [-1.5, -1, -.5, 0, .5], lab: [-1, 0], labX: [1394.5, 1515.6, 1634], base: 1301.7, tb: 1334, tx: [1460, 124]},
  {n: 'trial-duration', lat: durationLat, latE: durationLatErr, med: durationMed, medE: durationMedErr, ax: 1711.3, right: 1959, top: 1057, bot: 1267.7, x0: 1834.3, pps: 117.4, y0: 1133.3, ppu: 55.5, ticks: [-2, -1, 0, 1], lab: [-2, 0], labX: [1709.5, 1834, 1948], base: 1301.7, tb: 1334, tx: [1778, 122]}
];
kernelPanels.forEach(p => {
  const g = mk('g', 'kernel-chart-' + p.n);
  const x = t => p.x0 + t * p.pps, y = v => p.y0 - v * p.ppu;
  const band = (vals, errs, color, op, name) => {
    const up = timeGrid.map((t, i) => x(t).toFixed(1) + ',' + y(vals[i] + errs[i]).toFixed(1));
    const dn = timeGrid.map((t, i) => x(t).toFixed(1) + ',' + y(vals[i] - errs[i]).toFixed(1)).reverse();
    set(mk('polygon', name, g), {points: up.concat(dn).join(' '), fill: color, 'fill-opacity': op});
  };
  band(p.med, p.medE, '#f9a53a', .16, 'nacmed-error-band');
  band(p.lat, p.latE, '#4f6fc0', .14, 'naclat-error-band');
  line('zero-time-line', p.x0, p.top, p.x0, p.bot, '#333', 1.5, g, {'stroke-dasharray': '9 5'});
  line('y-axis', p.ax, p.top, p.ax, p.bot, '#222', 1.8, g);
  line('x-axis', p.ax, p.bot, p.right, p.bot, '#222', 2, g);
  p.ticks.forEach(v => line('y-tick', p.ax - 5, y(v), p.ax, y(v), '#222', 1.6, g));
  p.lab.forEach(v => label('y-tick-label', String(v), p.ax - 8, y(v) + 12, 36, 'end', g));
  xTickLabels.forEach((s, i) => label('x-tick-label', s, p.labX[i], p.base, 35, 'middle', g));
  const tl = label('x-axis-title', 'Time (s)', p.tx[0], p.tb, 34, 'start', g);
  set(tl, {textLength: p.tx[1], lengthAdjust: 'spacingAndGlyphs'});
  poly('nacmed-line', timeGrid.map((t, i) => [x(t), y(p.med[i])]), '#f59a1b', 2, g);
  poly('naclat-line', timeGrid.map((t, i) => [x(t), y(p.lat[i])]), '#2c4ea3', 2, g);
});

/* ---------- atlas outlines shared by c and d ---------- */
function drawAtlas(parent, box, color, dashed, w) {
  const g = mk('g', 'nac-atlas-outline', parent);
  g.setAttribute('transform', 'translate(' + box.x + ',' + box.y + ') scale(' + (box.w / 379) + ',' + (box.h / 725) + ') translate(-151,-190)');
  const dash = dashed ? '9 5' : 'none';
  const add = (name, d, sw, da) => {
    set(mk('path', name, g), {d, fill: 'none', stroke: color, 'stroke-width': sw, 'stroke-dasharray': da || 'none', 'vector-effect': 'non-scaling-stroke', 'stroke-linecap': 'round'});
  };
  add('anterior-commissure-track', 'M217,195 L232,290 L247,370', w);
  add('anterior-commissure-thick', 'M238,320 L247,370', w + 2);
  add('nac-shell-outline', 'M232,290 C190,350 170,440 170,530 C172,640 220,760 290,835 C320,858 350,862 375,858 C420,845 455,805 477,770', dashed ? 2 : w, dash);
  add('nac-core-outline', 'M247,340 C300,335 335,350 355,400 C385,460 390,530 385,570 C375,620 340,640 320,640 C280,635 245,620 237,570 C225,490 225,430 245,370', dashed ? 2 : w, dash);
  add('anterior-commissure-ellipse', 'M280,390 C305,395 320,440 320,470 C320,495 305,505 290,500 C270,490 260,450 262,425 C262,405 270,390 280,390', dashed ? 2.2 : w);
  add('ventral-edge-left', 'M178,822 L243,912', dashed ? 2 : w);
  add('ventral-edge-right', 'M527,780 C510,820 480,880 455,912', dashed ? 2.2 : w);
}

/* ---------- panel c ---------- */
const hexPanels = [
  {n: 'trial-start', auc: aucTrialStart, x: 96.3, y: 1405.3, w: 241.7, h: 241.4},
  {n: 'seeking', auc: aucSeeking, x: 418.4, y: 1406.7, w: 237.2, h: 236.6},
  {n: 'reward-delivery', auc: aucReward, x: 749.4, y: 1405.3, w: 232.6, h: 234},
  {n: 'consumption', auc: aucConsumption, x: 1067.9, y: 1405, w: 234.1, h: 235},
  {n: 'cs-trial', auc: aucCsMinus, x: 1402.4, y: 1406, w: 233.6, h: 233.3},
  {n: 'trial-duration', auc: aucDuration, x: 1715, y: 1406, w: 238, h: 237.3}
];
hexPanels.forEach(p => {
  const g = mk('g', 'hex-map-' + p.n);
  drawAtlas(g, p, '#222', true, 2.4);
  p.auc.forEach((v, i) => {
    if (v === null) return;
    set(mk('polygon', 'recording-site-hex', g), {
      points: hexPoints(p.x + siteFracX[i] * p.w, p.y + siteFracY[i] * p.h, p.w * .053, p.h * .048),
      fill: ramp(aucStops, v), 'fill-opacity': .45
    });
  });
  set(mk('rect', 'hex-map-frame', g), {x: p.x, y: p.y, width: p.w, height: p.h, fill: 'none', stroke: '#222', 'stroke-width': 2});
});
set(mk('rect', 'auc-colorbar'), {x: 78, y: 1404, width: 11, height: 243.3, fill: 'url(#auc-grad)', 'fill-opacity': .9, stroke: '#777', 'stroke-width': 1});
[1404, 1465, 1526, 1586, 1647].forEach(y => line('auc-colorbar-tick', 70, y, 78, y, '#222', 1.6));

/* ---------- panel d ---------- */
const heatPanels = [
  {n: 'trial-start', m: heatTrialStart, x: 96.3, y: 1753.3, w: 241.7, h: 241.7, cb: [95.7, 342.5, 2005, 2016], ticks: [98.9, 146.7, 194.5, 242.3, 290.2, 338], labs: [['0', 99], ['10', 196.4], ['20', 292]], auc: [178.6, 72]},
  {n: 'seeking', m: heatSeeking, x: 418.4, y: 1754.3, w: 237.2, h: 237.4, cb: [419, 660, 2005, 2016], ticks: [437.5, 498, 559.3, 620], labs: [['0', 438.8], ['1.5', 502], ['3', 560], ['4.5', 623.7]], auc: [505, 72]},
  {n: 'reward-delivery', m: heatReward, x: 749.4, y: 1753.3, w: 232.6, h: 234.4, cb: [745, 985, 2004, 2016], ticks: [757.7, 801, 845, 889, 932.4, 975.8], labs: [['0', 757], ['10', 847], ['20', 934]], auc: [831, 71]},
  {n: 'consumption', m: heatConsumption, x: 1067.9, y: 1752.7, w: 234.1, h: 235.3, cb: [1067.3, 1304, 2005, 2018], ticks: [1077.7, 1122.3, 1166.4, 1211, 1255.7, 1300.3], labs: [['1', 1077.7], ['3', 1168], ['5', 1257.5]], auc: [1157, 72]},
  {n: 'cs-trial', m: heatCsMinus, x: 1402.4, y: 1753.3, w: 233.6, h: 234.4, cb: [1405.5, 1639, 2005, 2016], ticks: [1419, 1520, 1621], labs: [['-10', 1416.5], ['-5', 1520], ['0', 1623]], auc: [1483, 72]},
  {n: 'trial-duration', m: heatDuration, x: 1715, y: 1753.3, w: 238, h: 238.4, cb: [1715, 1957, 2005, 2016], ticks: [1716.2, 1764.6, 1812.2, 1860.6, 1908.8, 1955.3], labs: [['-2', 1712], ['0', 1814], ['2', 1909]], auc: [1808.5, 72]}
];
function sampleGrid(m, u, v) {
  const r = v * (m.length - 1), c = u * (m[0].length - 1);
  const r0 = Math.min(Math.floor(r), m.length - 2), c0 = Math.min(Math.floor(c), m[0].length - 2);
  const fr = r - r0, fc = c - c0;
  return (m[r0][c0] * (1 - fc) + m[r0][c0 + 1] * fc) * (1 - fr) + (m[r0 + 1][c0] * (1 - fc) + m[r0 + 1][c0 + 1] * fc) * fr;
}
const heatCols = 29, heatRows = 30;
heatPanels.forEach(p => {
  const g = mk('g', 'auc-heatmap-' + p.n);
  const cw = p.w / heatCols, ch = p.h / heatRows;
  for (let r = 0; r < heatRows; r++) {
    for (let c = 0; c < heatCols; c++) {
      const cell = mk('rect', 'heatmap-cell', g);
      set(cell, {x: (p.x + c * cw).toFixed(2), y: (p.y + r * ch).toFixed(2), width: (cw + .6).toFixed(2), height: (ch + .6).toFixed(2),
        fill: ramp(rocketStops, sampleGrid(p.m, (c + .5) / heatCols, (r + .5) / heatRows)), 'shape-rendering': 'crispEdges'});
    }
  }
  const clipId = 'clip-' + p.n;
  const cp = document.createElementNS(NS, 'clipPath');
  cp.setAttribute('id', clipId);
  const cr = document.createElementNS(NS, 'rect');
  set(cr, {x: p.x, y: p.y, width: p.w, height: p.h});
  cp.appendChild(cr);
  g.appendChild(cp);
  const holder = mk('g', 'atlas-overlay', g);
  holder.setAttribute('clip-path', 'url(#' + clipId + ')');
  drawAtlas(holder, p, '#ffffff', false, 3);
  set(mk('rect', 'heatmap-frame', g), {x: p.x, y: p.y, width: p.w, height: p.h, fill: 'none', stroke: '#222', 'stroke-width': 2});
  const cb = p.cb;
  set(mk('rect', 'heatmap-colorbar', g), {x: cb[0], y: cb[2], width: cb[1] - cb[0], height: cb[3] - cb[2], fill: 'url(#rocket-grad)'});
  p.ticks.forEach(x => line('colorbar-tick', x, cb[3] + 1, x, cb[3] + 8, '#222', 1.6, g));
  p.labs.forEach(l => label('colorbar-tick-label', l[0], l[1], 2056, 35, 'middle', g));
  const a = label('colorbar-title', 'AUC', p.auc[0], 2099, 34, 'start', g);
  set(a, {textLength: p.auc[1], lengthAdjust: 'spacingAndGlyphs'});
});
</script>
</svg>
</body>
</html>
